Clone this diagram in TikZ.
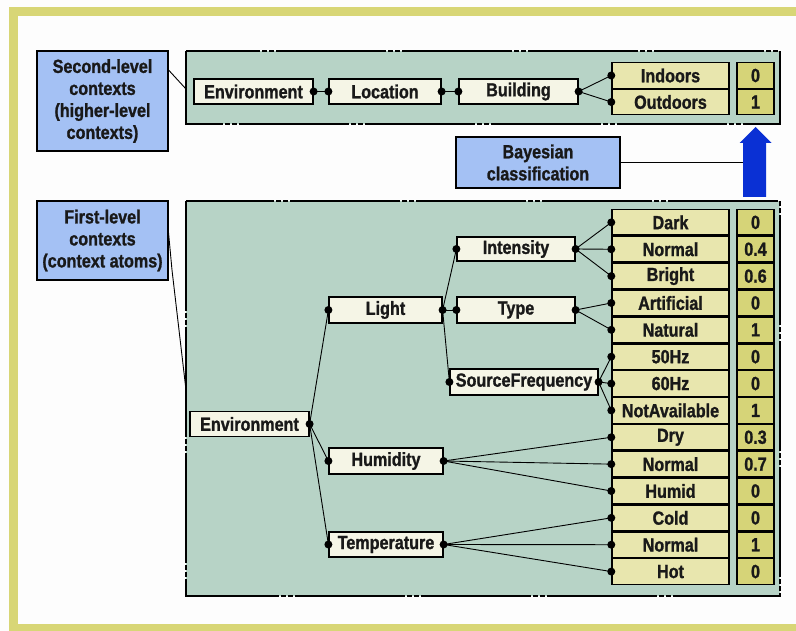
\documentclass[tikz,border=0pt]{standalone}
\usepackage{fontspec}
\setmainfont{Liberation Sans}[FakeStretch=0.85, BoldFeatures={FakeBold=1.2}]
\usetikzlibrary{arrows.meta}
\definecolor{frameY}{HTML}{D8D676}
\definecolor{paper}{HTML}{FDFDFD}
\definecolor{panelG}{HTML}{B7D3C6}
\definecolor{noteB}{HTML}{A4C1F4}
\definecolor{creamN}{HTML}{F5F5E6}
\definecolor{leafY}{HTML}{E8E6AE}
\definecolor{valY}{HTML}{D6D478}
\definecolor{arrowB}{HTML}{0A30D4}
\tikzset{
  lbl/.style={font=\bfseries\fontsize{19}{22}\selectfont, text=black!90},
  panel/.style={fill=panelG, draw=black, line width=1.1pt,
    dash pattern=on 110pt off 2pt on 5pt off 2pt on 5pt off 2pt},
  note/.style={lbl, draw=black, line width=1.1pt, fill=noteB, align=center,
    inner sep=0pt},
  inode/.style={lbl, draw=black, line width=1.2pt, fill=creamN, inner sep=0pt,
    minimum height=25pt},
  leaf/.style={lbl, draw=black, line width=1.4pt, fill=leafY, inner sep=0pt,
    minimum width=117pt, minimum height=25.6pt},
  val/.style={lbl, draw=black, line width=1.4pt, fill=valY, inner sep=0pt,
    minimum width=37pt, minimum height=25.6pt},
  link/.style={line width=0.9pt, black},
}
\newcommand{\pin}[1]{\fill (#1) circle (4pt);}
\begin{document}
\begin{tikzpicture}[x=1pt,y=-1pt]
\useasboundingbox (0,0) rectangle (796,631);
\fill[paper] (0,0) rectangle (796,631);
% yellow frame, open on the right
\draw[frameY, line width=9pt] (805,11.5) -- (13,11.5) -- (13,628.5) -- (805,628.5);

% panels
\draw[panel] (186,51) rectangle (780,124);
\draw[panel] (186,201) rectangle (780,596);

% side notes
\node[note, minimum width=131pt, minimum height=100pt] (n2) at (102.5,101)
  {Second-level\\contexts\\(higher-level\\contexts)};
\node[note, minimum width=131pt, minimum height=79pt] (n1) at (102.5,240.5)
  {First-level\\contexts\\(context atoms)};
\node[note, minimum width=164pt, minimum height=51pt] (bay) at (538,162.5)
  {Bayesian\\classification};

% second-level row
\node[inode, minimum width=119pt] (e2) at (253.5,91.5) {Environment};
\node[inode, minimum width=112pt] (loc) at (385,91.5) {Location};
\node[inode, minimum width=119pt] (bld) at (518.5,91.5) {Building};
\node[leaf] (ind) at (670.5,75.5) {Indoors};
\node[leaf] (out) at (670.5,102) {Outdoors};
\node[val] (vind) at (755.5,75.5) {0};
\node[val] (vout) at (755.5,102) {1};

% first-level tree
\node[inode, minimum width=119pt] (env) at (249.5,424) {Environment};
\node[inode, minimum width=113pt, minimum height=26pt] (light) at (385.5,310) {Light};
\node[inode, minimum width=118pt, minimum height=24pt] (inten) at (516,249) {Intensity};
\node[inode, minimum width=118pt, minimum height=26pt] (type) at (516,310) {Type};
\node[inode, minimum width=148pt, minimum height=26pt] (src) at (524,382) {SourceFrequency};
\node[inode, minimum width=114pt, minimum height=26pt] (hum) at (386,461) {Humidity};
\node[inode, minimum width=114pt] (temp) at (386,544.5) {Temperature};

% leaves and values
\foreach \name/\txt/\v [count=\i from 0] in {
  dark/Dark/0, norm/Normal/0.4, bright/Bright/0.6, art/Artificial/0,
  nat/Natural/1, hz50/50Hz/0, hz60/60Hz/0, na/NotAvailable/1,
  dry/Dry/0.3, hnorm/Normal/0.7, humid/Humid/0,
  cold/Cold/0, tnorm/Normal/1, hot/Hot/0}{
  \node[leaf] (\name) at (670.5,{222.4+26.86*\i}) {\txt};
  \node[val] (v\name) at (755.5,{222.4+26.86*\i}) {\v};
}

% note leaders
\draw[link] (n2.east |- 0,70) -- (186,89);
\draw[link] (n1.east |- 0,233) -- (172,270) -- (186,390);
\draw[link] (bay.east) -- (743,162.5);

% Bayesian arrow
\fill[arrowB] (743,197) -- (743,143) -- (739.5,143) -- (755.5,127) -- (771.5,143)
  -- (766,143) -- (766,197) -- cycle;

% second-level connectors
\draw[link] (e2.east) -- (loc.west);
\draw[link] (loc.east) -- (bld.west);
\draw[link] (bld.east) -- (ind.west);
\draw[link] (bld.east) -- (out.west);
\foreach \p in {e2.east,loc.west,loc.east,bld.west,bld.east,ind.west,out.west}{\pin{\p}}

% first-level connectors
\foreach \a/\b in {env/light, env/hum, env/temp,
  light/inten, light/type, light/src,
  inten/dark, inten/norm, inten/bright,
  type/art, type/nat,
  src/hz50, src/hz60, src/na,
  hum/dry, hum/hnorm, hum/humid,
  temp/cold, temp/tnorm, temp/hot}{
  \draw[link] (\a.east) -- (\b.west);
}
\foreach \p in {env.east, light.west, light.east, inten.west, inten.east,
  type.west, type.east, src.west, src.east, hum.west, hum.east,
  temp.west, temp.east}{\pin{\p}}
\foreach \p in {dark,norm,bright,art,nat,hz50,hz60,na,dry,hnorm,humid,cold,tnorm,hot}{\pin{\p.west}}
\end{tikzpicture}
\end{document}
